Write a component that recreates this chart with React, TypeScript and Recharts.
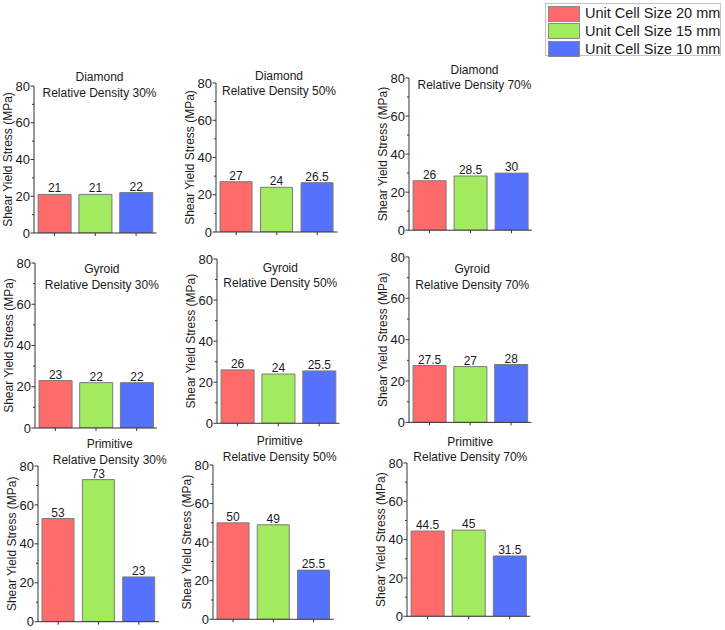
import { BarChart, Bar, XAxis, YAxis, Cell, LabelList } from "recharts"

const structures = ["Diamond", "Gyroid", "Primitive"]
const densities = ["30%", "50%", "70%"]
const cellSizes = ["Unit Cell Size 20 mm", "Unit Cell Size 15 mm", "Unit Cell Size 10 mm"]

// shear yield stress (MPa) for 20 / 15 / 10 mm cells, per relative density
const diamondStress = [
  [21, 21, 22],
  [27, 24, 26.5],
  [26, 28.5, 30],
]
const gyroidStress = [
  [23, 22, 22],
  [26, 24, 25.5],
  [27.5, 27, 28],
]
const primitiveStress = [
  [53, 73, 23],
  [50, 49, 25.5],
  [44.5, 45, 31.5],
]
const stressByStructure = [diamondStress, gyroidStress, primitiveStress]

const yTicks = [0, 10, 20, 30, 40, 50, 60, 70, 80]

const barColors = ["#ff6b6b", "#a2eb5e", "#5572ff"]
const font = "'Liberation Sans', Arial, sans-serif"

// plot frame of each panel: left, top (80), bottom (0), right, title centre
const frames = [
  [
    { l: 33.5, t: 86, b: 233, r: 156, tx: 99, ty: 77 },
    { l: 216, t: 82.5, b: 231.5, r: 337.5, tx: 279, ty: 75 },
    { l: 409, t: 78.3, b: 230.5, r: 532, tx: 474.5, ty: 70 },
  ],
  [
    { l: 35, t: 263.3, b: 428.3, r: 157, tx: 101.8, ty: 269.3 },
    { l: 216.7, t: 259, b: 423.3, r: 339.3, tx: 280, ty: 267.7 },
    { l: 409.3, t: 257.3, b: 422.7, r: 531.7, tx: 472.5, ty: 269.3 },
  ],
  [
    { l: 38.3, t: 466, b: 621.7, r: 159.3, tx: 110, ty: 444 },
    { l: 213.3, t: 465, b: 619.3, r: 334, tx: 280, ty: 441 },
    { l: 406.7, t: 462.7, b: 616, r: 530, tx: 470, ty: 441 },
  ],
]

const YW = 40
const MT = 40
const MR = 12
const XH = 8

const YTick = (props: any) => {
  const { x, y, payload } = props
  const major = payload.value % 20 === 0
  return (
    <g>
      <line x1={x} x2={x - (major ? 3.5 : 2)} y1={y} y2={y} stroke="#333" strokeWidth={1} />
      {major && (
        <text x={x - 4} y={y + 4.6} textAnchor="end" fontSize={13} fill="#1a1a1a" fontFamily={font}>
          {payload.value}
        </text>
      )}
    </g>
  )
}

const XTick = (props: any) => {
  const { x, y } = props
  return <line x1={x} x2={x} y1={y} y2={y + 3} stroke="#333" strokeWidth={1} />
}

const Panel = ({ si, di }: { si: number; di: number }) => {
  const f = frames[si][di]
  const values = stressByStructure[si][di]
  const data = cellSizes.map((name, i) => ({ name, value: values[i] }))
  const width = YW + (f.r - f.l) + MR
  const height = MT + (f.b - f.t) + XH + 6
  const left = f.l - YW
  const top = f.t - MT
  const titleX = f.tx - left
  const titleY = f.ty - top
  const labelX = YW - 26
  const labelY = MT + (f.b - f.t) / 2

  return (
    <div style={{ position: "absolute", left, top, width, height }}>
      <BarChart
        width={width}
        height={height}
        data={data}
        margin={{ top: MT, right: MR, bottom: 6, left: 0 }}
        barCategoryGap="10%"
      >
        <XAxis
          dataKey="name"
          height={XH}
          tickSize={0}
          tickMargin={0}
          tick={XTick}
          stroke="#333"
          interval={0}
        />
        <YAxis
          width={YW}
          domain={[0, 80]}
          ticks={yTicks}
          interval={0}
          tickSize={0}
          tickMargin={0}
          tick={YTick}
          stroke="#333"
          allowDataOverflow
        />
        <Bar dataKey="value" stroke="#7a7a7a" strokeWidth={1} isAnimationActive={false}>
          {data.map((d, i) => (
            <Cell key={d.name} fill={barColors[i]} />
          ))}
          <LabelList dataKey="value" position="top" offset={2} fontSize={12} fill="#1a1a1a" fontFamily={font} />
        </Bar>
        <text
          x={titleX}
          y={titleY + 4.3}
          textAnchor="middle"
          fontSize={12}
          fill="#1a1a1a"
          fontFamily={font}
        >
          {structures[si]}
        </text>
        <text
          x={titleX}
          y={titleY + 15.5 + 4.3}
          textAnchor="middle"
          fontSize={12}
          fill="#1a1a1a"
          fontFamily={font}
        >
          {`Relative Density ${densities[di]}`}
        </text>
        <text
          x={labelX}
          y={labelY}
          transform={`rotate(-90, ${labelX}, ${labelY})`}
          textAnchor="middle"
          dominantBaseline="central"
          fontSize={12}
          fill="#1a1a1a"
          fontFamily={font}
        >
          Shear Yield Stress (MPa)
        </text>
      </BarChart>
    </div>
  )
}

const SizeLegend = () => (
  <div
    style={{
      position: "absolute",
      left: 545,
      top: 3,
      width: 176,
      height: 53,
      border: "1px solid #c4c4c4",
      fontFamily: font,
      fontSize: 14.5,
      color: "#1a1a1a",
      boxSizing: "border-box",
    }}
  >
    {cellSizes.map((s, i) => (
      <div key={s} style={{ position: "absolute", left: 2, top: 1 + i * 17.8, height: 17, display: "flex", alignItems: "center" }}>
        <div
          style={{
            width: 32,
            height: 16,
            background: barColors[i],
            border: "1px solid #8a8a8a",
            boxSizing: "border-box",
            marginRight: 5,
          }}
        />
        <span style={{ whiteSpace: "nowrap", lineHeight: "17px" }}>{s}</span>
      </div>
    ))}
  </div>
)

export default function App() {
  return (
    <div style={{ position: "absolute", left: 0, top: 0, width: 725, height: 630, background: "#fff" }}>
      {structures.map((s, si) =>
        densities.map((d, di) => <Panel key={`${s}-${d}`} si={si} di={di} />)
      )}
      <SizeLegend />
    </div>
  )
}
